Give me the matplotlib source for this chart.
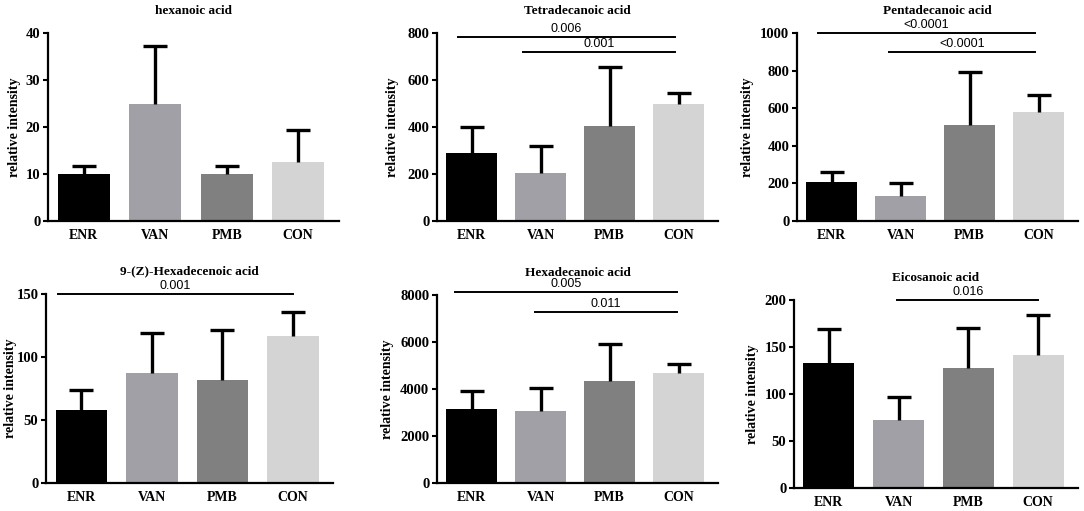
import matplotlib
matplotlib.use("Agg")
import matplotlib.pyplot as plt

groups = ["ENR", "VAN", "PMB", "CON"]
colors = ["#000000", "#a1a0a6", "#808080", "#d4d4d4"]

titles = ["hexanoic acid", "Tetradecanoic acid", "Pentadecanoic acid",
          "9-(Z)-Hexadecenoic acid", "Hexadecanoic acid", "Eicosanoic acid"]

hexanoic_mean = [9.9, 25.0, 10.0, 12.5]
hexanoic_sd = [1.75, 12.2, 1.8, 6.9]
tetradecanoic_mean = [291, 206, 406, 496]
tetradecanoic_sd = [107, 112, 249, 50]
pentadecanoic_mean = [210, 133, 508, 579]
pentadecanoic_sd = [51, 68, 284, 91]
hexadecenoic_mean = [58.1, 87.1, 82.0, 116.5]
hexadecenoic_sd = [16.0, 32.1, 39.8, 19.4]
hexadecanoic_mean = [3168, 3068, 4347, 4688]
hexadecanoic_sd = [752, 966, 1562, 355]
eicosanoic_mean = [133.2, 72.1, 127.5, 141.4]
eicosanoic_sd = [35.5, 24.2, 42.3, 42.3]

means = [hexanoic_mean, tetradecanoic_mean, pentadecanoic_mean,
         hexadecenoic_mean, hexadecanoic_mean, eicosanoic_mean]
sds = [hexanoic_sd, tetradecanoic_sd, pentadecanoic_sd,
       hexadecenoic_sd, hexadecanoic_sd, eicosanoic_sd]

yticks = [[0, 10, 20, 30, 40],
          [0, 200, 400, 600, 800],
          [0, 200, 400, 600, 800, 1000],
          [0, 50, 100, 150],
          [0, 2000, 4000, 6000, 8000],
          [0, 50, 100, 150, 200]]

# significance brackets: (x start, x end, y, label)
sig = [
    [],
    [(-0.2, 2.94, 781, "0.006"), (0.75, 2.94, 720, "0.001")],
    [(-0.2, 2.95, 998, "<0.0001"), (0.83, 2.95, 897, "<0.0001")],
    [(-0.33, 3.0, 150.3, "0.001")],
    [(-0.24, 2.97, 8142, "0.005"), (0.92, 2.97, 7289, "0.011")],
    [(0.98, 3.0, 200, "0.016")],
]

W, H = 1084, 511
# axes boxes in pixels: left, right, top, bottom
boxes = [(48, 339, 33, 221), (437, 718, 33, 221), (797, 1078, 33, 221),
         (46, 333, 294, 483), (437, 718, 295, 483), (794, 1078, 300, 488)]
ylabel_x = [15, 393, 748, 11, 388, 753]

serif = "Liberation Serif"
fig = plt.figure(figsize=(W / 100, H / 100), dpi=100)

for i in range(6):
    l, r, t, b = boxes[i]
    ax = fig.add_axes([l / W, (H - b) / H, (r - l) / W, (b - t) / H])
    x = list(range(4))
    ax.bar(x, means[i], width=0.73, color=colors, edgecolor="none", zorder=2)
    eb = ax.errorbar(x, means[i], yerr=[[0] * 4, sds[i]], fmt="none", ecolor="black",
                     elinewidth=2.4, capsize=8.5, capthick=2.4, zorder=3)
    # keep only the upper caps
    caps = eb[1]
    for cap in caps:
        yd = list(cap.get_ydata())
        if all(abs(a - m) < 1e-9 for a, m in zip(yd, means[i])):
            cap.set_visible(False)
    ax.set_xlim(-0.5, 3.57)
    ax.set_ylim(0, yticks[i][-1])
    ax.set_yticks(yticks[i])
    ax.set_yticklabels([str(v) for v in yticks[i]], fontfamily=serif,
                       fontweight="bold", fontsize=10.5)
    ax.set_xticks(x)
    ax.set_xticklabels(groups, fontfamily=serif, fontweight="bold", fontsize=10)
    ax.tick_params(axis="x", length=0, pad=6)
    ax.tick_params(axis="y", length=3.5, width=1.5, pad=2)
    for s in ["top", "right"]:
        ax.spines[s].set_visible(False)
    for s in ["left", "bottom"]:
        ax.spines[s].set_linewidth(1.6)
    ax.set_ylabel("relative intensity", fontfamily=serif, fontweight="bold",
                  fontsize=10)
    ax.yaxis.set_label_coords((ylabel_x[i] + 6 - l) / (r - l), 0.5)
    ax.set_title(titles[i], fontfamily=serif, fontweight="bold", fontsize=9.5,
                 pad=14)
    for (x0, x1, y, lab) in sig[i]:
        ax.plot([x0, x1], [y, y], color="black", lw=1.4, clip_on=False, zorder=4)
        ax.annotate(lab, xy=((x0 + x1) / 2, y), xytext=(0, 1.5),
                    textcoords="offset points", ha="center", va="bottom",
                    fontsize=9, fontfamily="Liberation Sans", annotation_clip=False)

fig.savefig("out.png", dpi=100)
